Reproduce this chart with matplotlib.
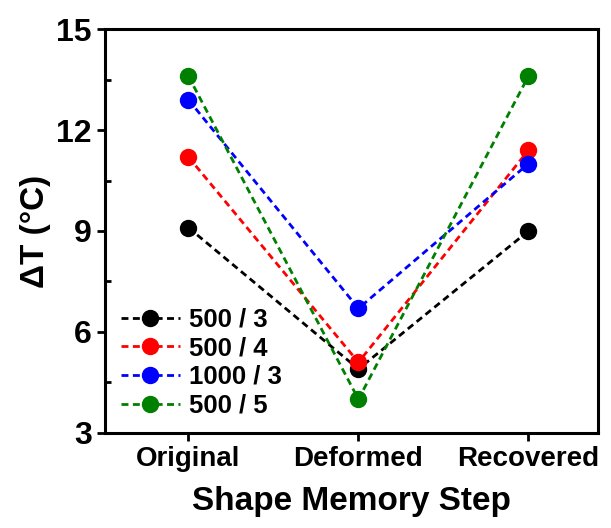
import matplotlib
matplotlib.use("Agg")
import matplotlib.pyplot as plt
from matplotlib.ticker import MultipleLocator

plt.rcParams['font.family'] = ['Liberation Sans', 'DejaVu Sans']
plt.rcParams['font.weight'] = 'bold'

steps = ['Original', 'Deformed', 'Recovered']
labels = ['500 / 3', '500 / 4', '1000 / 3', '500 / 5']
colors = ['black', 'red', 'blue', 'green']
s_500_3 = [9.1, 4.9, 9.0]
s_500_4 = [11.2, 5.1, 11.4]
s_1000_3 = [12.9, 6.7, 11.0]
s_500_5 = [13.6, 4.0, 13.6]
series = [s_500_3, s_500_4, s_1000_3, s_500_5]

fig = plt.figure(figsize=(6.11, 5.28), dpi=100)
ax = fig.add_axes([0.172, 0.180, 0.807, 0.765])

x = range(len(steps))
for vals, lab, c in zip(series, labels, colors):
    ax.plot(x, vals, '--', color=c, lw=2, dashes=(2.5, 1.6),
            marker='o', markersize=11.5, label=lab)

ax.set_xlim(-0.49, 2.41)
ax.set_ylim(3, 15)
ax.set_xticks(list(x))
ax.set_xticklabels(steps, fontsize=20, fontweight='bold')
ax.yaxis.set_major_locator(MultipleLocator(3))
ax.yaxis.set_minor_locator(MultipleLocator(1.5))
for t in ax.get_yticklabels():
    t.set_fontsize(23)
    t.set_fontweight('bold')
ax.tick_params(axis='both', which='major', direction='out', length=6, width=2)
ax.tick_params(axis='y', which='minor', direction='in', length=4, width=2)
for sp in ax.spines.values():
    sp.set_linewidth(2.2)

ax.set_xlabel('Shape Memory Step', fontsize=24, fontweight='bold', labelpad=10)
ax.set_ylabel('ΔT (°C)', fontsize=24, fontweight='bold', labelpad=4)

ax.legend(loc='lower left', frameon=False, fontsize=18.5, handlelength=2.3,
          labelspacing=0.18, handletextpad=0.35, borderaxespad=0.2,
          bbox_to_anchor=(0.0, 0.0))

fig.savefig('out.png', dpi=100)
